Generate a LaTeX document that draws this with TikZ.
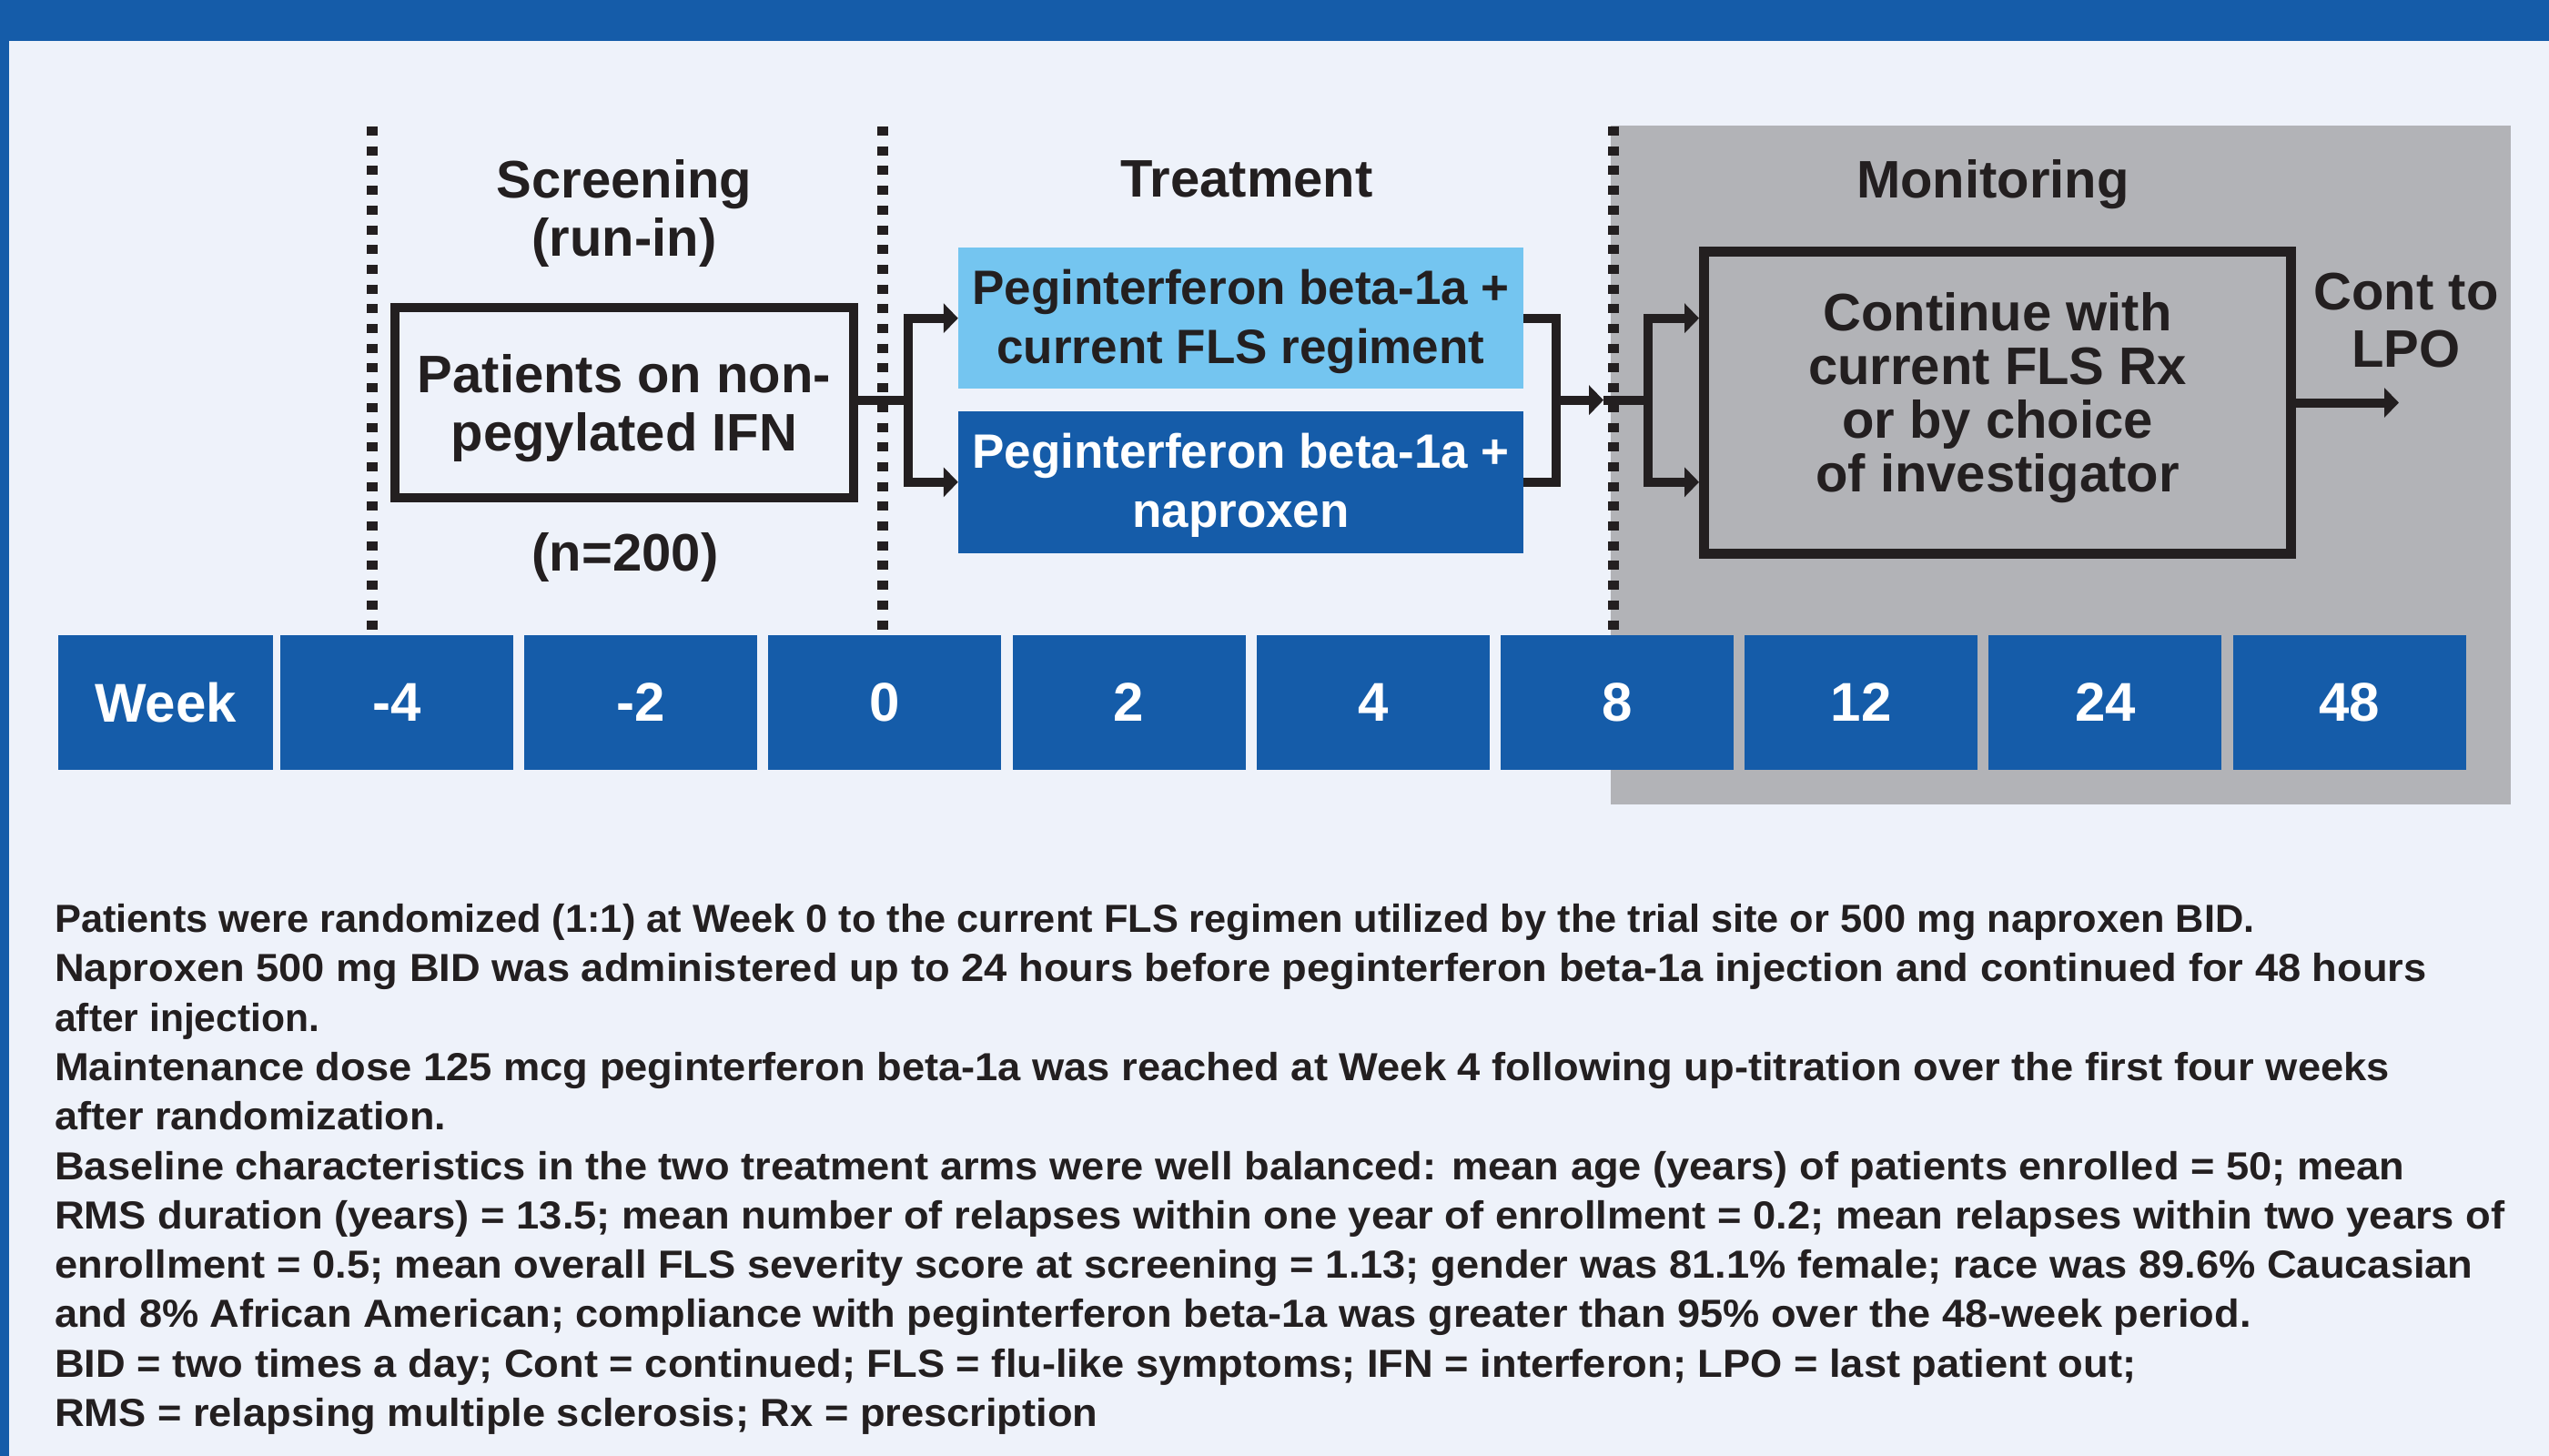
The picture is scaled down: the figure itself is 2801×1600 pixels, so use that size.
\documentclass[tikz,border=0pt]{standalone}
\usepackage{graphicx}
\usepackage{fontspec}
\setmainfont{Liberation Sans}
\usetikzlibrary{arrows.meta}
\definecolor{bg}{RGB}{238,242,250}
\definecolor{navy}{RGB}{21,92,169}
\definecolor{sky}{RGB}{116,197,240}
\definecolor{monogray}{RGB}{178,179,183}
\definecolor{ink}{RGB}{35,31,32}
\newcommand{\stretchln}[2]{\scalebox{#1}[1]{#2}}
\begin{document}
\begin{tikzpicture}[x=1pt,y=-1pt,
  hd/.style={inner sep=0pt, anchor=base, text=ink, font=\fontsize{58}{64}\selectfont\bfseries},
  frame/.style={draw=ink, line width=10pt, inner sep=0pt, align=center, text=ink, font=\fontsize{58}{64}\selectfont\bfseries},
  arm/.style={inner sep=0pt, align=center, font=\fontsize{53}{65}\selectfont\bfseries, minimum width=621pt, minimum height=155.5pt},
  wk/.style={fill=navy, text=white, inner sep=0pt, minimum height=148pt, minimum width=256pt, font=\fontsize{60}{66}\selectfont\bfseries},
  conn/.style={draw=ink, line width=10pt},
  arr/.style={conn, -{Triangle[length=16pt,width=32pt]}},
  dotl/.style={draw=ink, line width=12pt, dash pattern=on 10pt off 11.7pt},
  note/.style={inner sep=0pt, anchor=base west, text=ink, font=\fontsize{43}{54}\selectfont\bfseries}
]
\useasboundingbox (0,0) rectangle (2801,1600);
\fill[bg] (0,0) rectangle (2801,1600);
\fill[navy] (0,0) rectangle (2801,45);
\fill[navy] (0,0) rectangle (10,1600);
\fill[monogray] (1770,138) rectangle (2759,884);
% phase separators
\draw[dotl] (409,139) -- (409,697);
\draw[dotl] (970,139) -- (970,697);
\draw[dotl] (1773,139) -- (1773,697);
% week row
\node[wk, minimum width=236pt] (week) at (182,772) {Week};
\foreach \lab [count=\k from 0] in {-4,-2,0,2,4,8,12,24,48}
  \node[wk] (w\k) at ({436+268.2*\k},772) {\lab};
% headings
\node[hd] (scr1) at (686,217) {Screening};
\node[hd] (scr2) at (686,281) {(run-in)};
\node[hd] (n200) at (687,627) {(n=200)};
\node[hd] (trt) at (1370,216) {Treatment};
\node[hd] (monh) at (2190,217) {Monitoring};
\node[hd] (cont1) at (2644,340) {Cont to};
\node[hd] (cont2) at (2644,403.6) {LPO};
% boxes
\node[frame, minimum width=504pt, minimum height=209pt] (pat) at (686,442.5)
  {\rule{0pt}{55pt}Patients on non-\\pegylated IFN};
\node[arm, fill=sky, text=ink] (t1) at (1363.5,349.7)
  {\rule{0pt}{45pt}Peginterferon beta-1a +\\current FLS regiment};
\node[arm, fill=navy, text=white] (t2) at (1363.5,529.8)
  {\rule{0pt}{45pt}Peginterferon beta-1a +\\naproxen};
\node[frame, line width=11pt, minimum width=645pt, minimum height=332pt,
  font=\fontsize{58}{59}\selectfont\bfseries] (mon) at (2195,442.5)
  {Continue with\\current FLS Rx\\or by choice\\of investigator\rule[-24pt]{0pt}{1pt}};
% connectors
\coordinate (b1) at (998,439.7);
\coordinate (b2) at (1710,439.7);
\coordinate (b3) at (1762,439.7);
\coordinate (b4) at (1810.5,439.7);
\coordinate (lpo) at (2636,442.5);
\draw[conn] (pat.east |- b1) -- (b1);
\draw[arr] (b1) |- (t1.west);
\draw[arr] (b1) |- (t2.west);
\draw[conn] (t1.east) -| (b2);
\draw[conn] (t2.east) -| (b2);
\draw[arr] (b2) -- (b3);
\draw[conn] (b3) -- (b4);
\draw[arr] (b4) |- (mon.west |- t1.west);
\draw[arr] (b4) |- (mon.west |- t2.west);
\draw[arr] (mon.east) -- (lpo);
% notes
\node[note] (l1) at (60,1024.5) {\stretchln{1.008}{Patients were randomized (1:1) at Week 0 to the current FLS regimen utilized by the trial site or 500 mg naproxen BID.}};
\node[note] (l2) at (60,1078.8) {\stretchln{1.053}{Naproxen 500 mg BID was administered up to 24 hours before peginterferon beta-1a injection and continued for 48 hours}};
\node[note] (l3) at (60,1133.1) {\stretchln{0.99}{after injection.}};
\node[note] (l4) at (60,1187.4) {\stretchln{1.053}{Maintenance dose 125 mcg peginterferon beta-1a was reached at Week 4 following up-titration over the first four weeks}};
\node[note] (l5) at (60,1241.7) {\stretchln{1.046}{after randomization.}};
\node[note] (l6) at (60,1296.0) {\stretchln{1.052}{Baseline characteristics in the two treatment arms were well balanced: mean age (years) of patients enrolled = 50; mean}};
\node[note] (l7) at (60,1350.3) {\stretchln{1.054}{RMS duration (years) = 13.5; mean number of relapses within one year of enrollment = 0.2; mean relapses within two years of}};
\node[note] (l8) at (60,1404.6) {\stretchln{1.053}{enrollment = 0.5; mean overall FLS severity score at screening = 1.13; gender was 81.1\% female; race was 89.6\% Caucasian}};
\node[note] (l9) at (60,1458.9) {\stretchln{1.051}{and 8\% African American; compliance with peginterferon beta-1a was greater than 95\% over the 48-week period.}};
\node[note] (l10) at (60,1513.2) {\stretchln{1.0525}{BID = two times a day; Cont = continued; FLS = flu-like symptoms; IFN = interferon; LPO = last patient out;}};
\node[note] (l11) at (60,1567.5) {\stretchln{1.052}{RMS = relapsing multiple sclerosis; Rx = prescription}};
\end{tikzpicture}
\end{document}
